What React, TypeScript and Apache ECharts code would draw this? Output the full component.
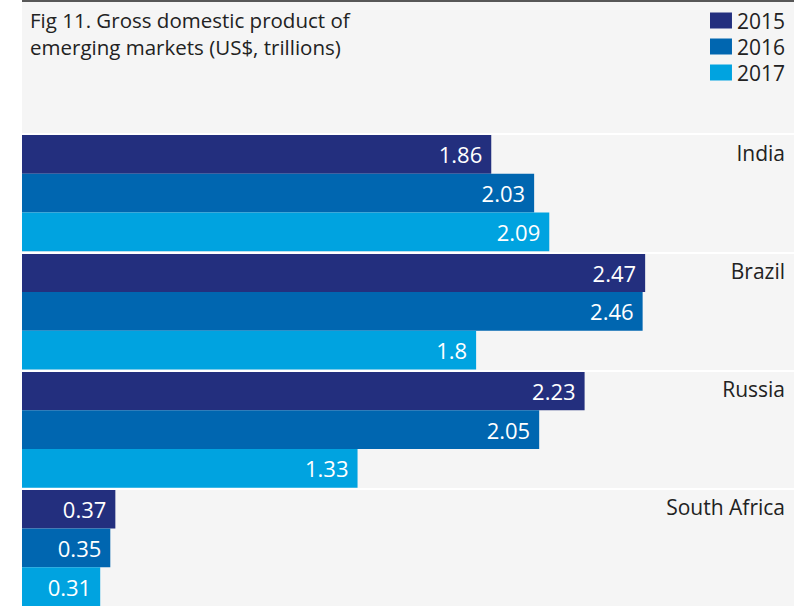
import React, { useEffect, useRef } from "react";
import * as echarts from "echarts";

const categories = ["India", "Brazil", "Russia", "South Africa"];
const years = ["2015", "2016", "2017"];
const values2015 = [1.86, 2.47, 2.23, 0.37];
const values2016 = [2.03, 2.46, 2.05, 0.35];
const values2017 = [2.09, 1.8, 1.33, 0.31];
const colors = ["#232f7e", "#0066b0", "#00a3e0"];
const titleLine1 = "Fig 11. Gross domestic product of";
const titleLine2 = "emerging markets (US$, trillions)";

const FONT = "'Open Sans', 'Noto Sans', sans-serif";

export default function App() {
  const ref = useRef<HTMLDivElement>(null);
  useEffect(() => {
    if (!ref.current) return;
    const chart = echarts.init(ref.current, undefined, { renderer: "svg" });
    const seriesData = [values2015, values2016, values2017];
    chart.setOption({
      animation: false,
      backgroundColor: "#ffffff",
      textStyle: { fontFamily: FONT },
      graphic: [
        {
          type: "rect",
          z: -10,
          silent: true,
          shape: { x: 22, y: 0, width: 772, height: 607 },
          style: { fill: "#f5f5f5" },
        },
        {
          type: "line",
          z: 10,
          silent: true,
          shape: { x1: 22, y1: 1, x2: 794, y2: 1 },
          style: { stroke: "#222222", lineWidth: 1.5 },
        },
      ],
      title: {
        text: titleLine1,
        subtext: titleLine2,
        left: 30,
        top: 10,
        padding: 0,
        itemGap: 6,
        textStyle: {
          fontFamily: FONT,
          fontSize: 20.5,
          fontWeight: "normal",
          color: "#222222",
          lineHeight: 20,
        },
        subtextStyle: {
          fontFamily: FONT,
          fontSize: 20.5,
          fontWeight: "normal",
          color: "#222222",
          lineHeight: 20,
        },
      },
      legend: {
        orient: "vertical",
        right: 23,
        top: 10,
        padding: 0,
        itemWidth: 22,
        itemHeight: 16,
        itemGap: 5,
        icon: "rect",
        data: years,
        textStyle: {
          fontFamily: FONT,
          fontSize: 21,
          color: "#222222",
          lineHeight: 21,
        },
      },
      grid: {
        left: 22,
        right: 14,
        top: 134,
        height: 477,
        containLabel: false,
      },
      xAxis: {
        type: "value",
        min: 0,
        max: 3.06,
        show: false,
      },
      yAxis: {
        type: "category",
        data: categories,
        inverse: true,
        position: "right",
        axisLine: { show: false },
        axisTick: { show: false },
        splitLine: {
          show: true,
          lineStyle: { color: "#ffffff", width: 2 },
        },
        axisLabel: {
          inside: true,
          margin: 9,
          align: "right",
          verticalAlign: "middle",
          fontFamily: FONT,
          fontSize: 21,
          lineHeight: 27,
          color: "#222222",
          formatter: (v: string) => v + "\n \n \n ",
        },
        z: 5,
      },
      series: years.map((y, i) => ({
        name: y,
        type: "bar",
        data: seriesData[i],
        barGap: "0%",
        barCategoryGap: "1.7%",
        itemStyle: { color: colors[i] },
        label: {
          show: true,
          position: "insideRight",
          distance: 9,
          color: "#ffffff",
          fontFamily: FONT,
          fontSize: 22,
          formatter: (p: any) => String(p.value),
        },
      })),
    });
    return () => chart.dispose();
  }, []);
  return (
    <div
      ref={ref}
      style={{ position: "fixed", left: 0, top: 0, width: 808, height: 607 }}
    />
  );
}
